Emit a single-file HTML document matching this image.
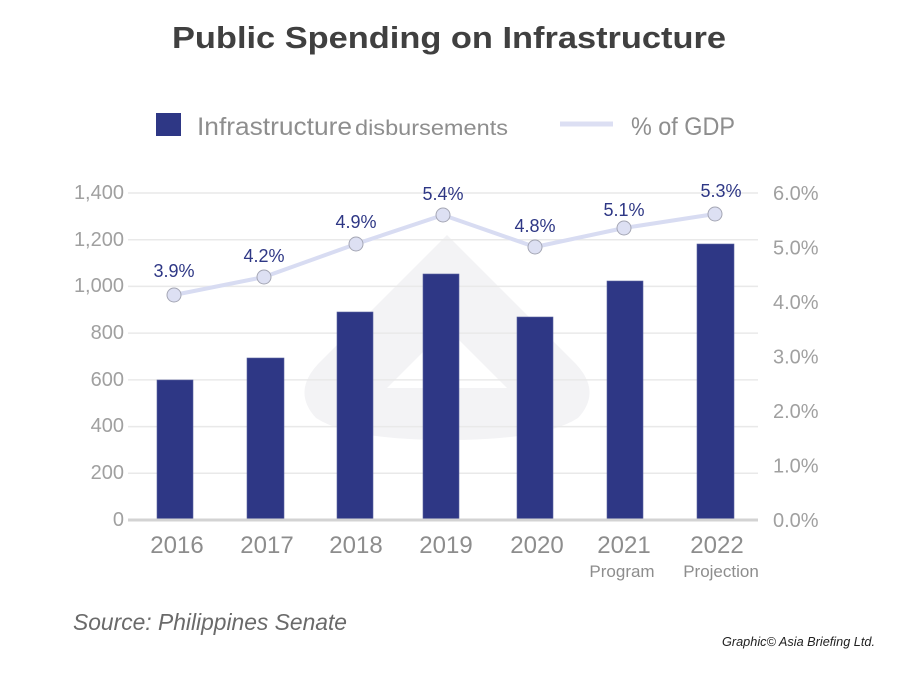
<!DOCTYPE html>
<html>
<head>
<meta charset="utf-8">
<style>
html,body{margin:0;padding:0;background:#fff;}
svg{display:block;}
text{font-family:"Liberation Sans",sans-serif;}
</style>
</head>
<body>
<svg width="900" height="673" viewBox="0 0 900 673" xmlns="http://www.w3.org/2000/svg">
<rect width="900" height="673" fill="#fff"/>

<!-- Title -->
<text x="172" y="48" font-size="31" font-weight="bold" fill="#404040" textLength="554" lengthAdjust="spacingAndGlyphs">Public Spending on Infrastructure</text>

<!-- Legend -->
<rect x="156" y="113" width="25" height="23" fill="#2e3785"/>
<text x="197" y="135" font-size="25" fill="#8e8e8e" textLength="155" lengthAdjust="spacingAndGlyphs">Infrastructure</text>
<text x="355" y="135" font-size="21" fill="#8e8e8e" textLength="153" lengthAdjust="spacingAndGlyphs">disbursements</text>
<line x1="560" y1="124" x2="613" y2="124" stroke="#dcdff3" stroke-width="5"/>
<text x="631" y="135" font-size="25" fill="#8e8e8e" textLength="104" lengthAdjust="spacingAndGlyphs">% of GDP</text>

<!-- Watermark -->
<path d="M447,235 L318,364 Q292,392 316,418 Q350,440 447,440 Q544,440 578,418 Q602,392 576,364 Z" fill="#f3f3f5"/>
<path d="M447,328 L387,388 L507,388 Z" fill="#ffffff"/>

<!-- Gridlines -->
<g stroke="#e9e9e9" stroke-width="1.5">
<line x1="128" y1="193" x2="758" y2="193"/>
<line x1="128" y1="239.7" x2="758" y2="239.7"/>
<line x1="128" y1="286.4" x2="758" y2="286.4"/>
<line x1="128" y1="333.1" x2="758" y2="333.1"/>
<line x1="128" y1="379.9" x2="758" y2="379.9"/>
<line x1="128" y1="426.6" x2="758" y2="426.6"/>
<line x1="128" y1="473.3" x2="758" y2="473.3"/>
</g>

<!-- Bars -->
<g fill="#2e3785" stroke="#5a62a0" stroke-width="0.6">
<rect x="157" y="380" width="36" height="140"/>
<rect x="247" y="358" width="37" height="162"/>
<rect x="337" y="312" width="36" height="208"/>
<rect x="423" y="274" width="36" height="246"/>
<rect x="517" y="317" width="36" height="203"/>
<rect x="607" y="281" width="36" height="239"/>
<rect x="697" y="244" width="37" height="276"/>
</g>

<!-- Axis line -->
<line x1="128" y1="520" x2="758" y2="520" stroke="#d3d3d3" stroke-width="3"/>

<!-- Left axis labels -->
<g font-size="20" fill="#a0a0a0" text-anchor="end">
<text x="124" y="199">1,400</text>
<text x="124" y="246">1,200</text>
<text x="124" y="292">1,000</text>
<text x="124" y="339">800</text>
<text x="124" y="386">600</text>
<text x="124" y="432">400</text>
<text x="124" y="479">200</text>
<text x="124" y="526">0</text>
</g>

<!-- Right axis labels -->
<g font-size="20" fill="#a0a0a0">
<text x="773" y="200">6.0%</text>
<text x="773" y="254.5">5.0%</text>
<text x="773" y="309">4.0%</text>
<text x="773" y="363.5">3.0%</text>
<text x="773" y="418">2.0%</text>
<text x="773" y="472.5">1.0%</text>
<text x="773" y="527">0.0%</text>
</g>

<!-- Year labels -->
<g font-size="24" fill="#8d8d8d" text-anchor="middle">
<text x="177" y="553">2016</text>
<text x="267" y="553">2017</text>
<text x="356" y="553">2018</text>
<text x="446" y="553">2019</text>
<text x="537" y="553">2020</text>
<text x="624" y="553">2021</text>
<text x="717" y="553">2022</text>
</g>
<g font-size="17" fill="#8d8d8d" text-anchor="middle">
<text x="622" y="577">Program</text>
<text x="721" y="577">Projection</text>
</g>

<!-- GDP line -->
<polyline points="174,295 264,277 356,244 443,215 535,247 624,228 715,214" fill="none" stroke="#d8dcf2" stroke-width="4" stroke-linejoin="round"/>
<g fill="#dde0f3" stroke="#a4a6b4" stroke-width="1">
<circle cx="174" cy="295" r="7"/>
<circle cx="264" cy="277" r="7"/>
<circle cx="356" cy="244" r="7"/>
<circle cx="443" cy="215" r="7"/>
<circle cx="535" cy="247" r="7"/>
<circle cx="624" cy="228" r="7"/>
<circle cx="715" cy="214" r="7"/>
</g>

<!-- Point labels -->
<g font-size="18" fill="#2e3785" text-anchor="middle">
<text x="174" y="277">3.9%</text>
<text x="264" y="262">4.2%</text>
<text x="356" y="228">4.9%</text>
<text x="443" y="200">5.4%</text>
<text x="535" y="232">4.8%</text>
<text x="624" y="216">5.1%</text>
<text x="721" y="197">5.3%</text>
</g>

<!-- Source -->
<text x="73" y="630" font-size="23" font-style="italic" fill="#6a6a6a" textLength="274" lengthAdjust="spacingAndGlyphs">Source: Philippines Senate</text>

<!-- Credit -->
<text x="722" y="646" font-size="13" font-style="italic" fill="#222" textLength="153" lengthAdjust="spacingAndGlyphs">Graphic© Asia Briefing Ltd.</text>
</svg>
</body>
</html>
